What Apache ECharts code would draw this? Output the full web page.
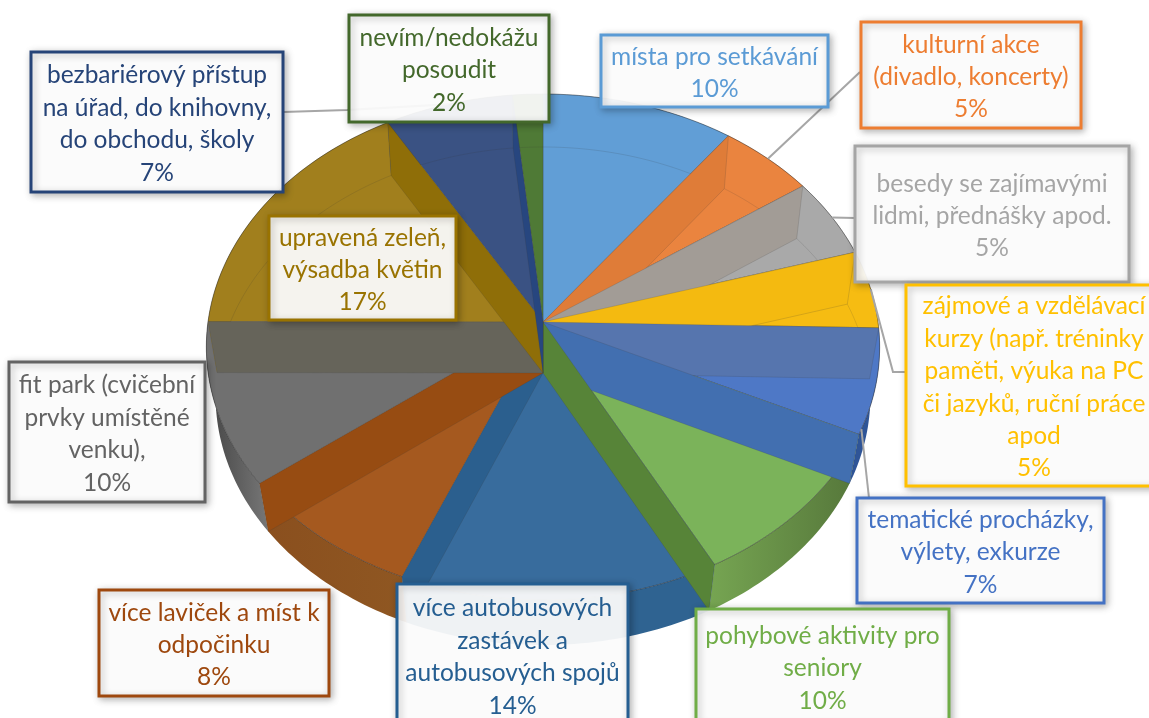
<!DOCTYPE html>
<html><head><meta charset="utf-8">
<script src="https://cdn.jsdelivr.net/npm/echarts@6/dist/echarts.min.js"></script>
<style>html,body{margin:0;padding:0;background:#fff;overflow:hidden}#c{width:1149px;height:718px}</style>
</head><body><div id="c"></div>
<script>
// ---- data ----
const categories = [
  'místa pro setkávání',
  'kulturní akce\n(divadlo, koncerty)',
  'besedy se zajímavými\nlidmi, přednášky apod.',
  'zájmové a vzdělávací\nkurzy (např. tréninky\npaměti, výuka na PC\nči jazyků, ruční práce\napod',
  'tematické procházky,\nvýlety, exkurze',
  'pohybové aktivity pro\nseniory',
  'více autobusových\nzastávek a\nautobusových spojů',
  'více laviček a míst k\nodpočinku',
  'fit park (cvičební\nprvky umístěné\nvenku),',
  'upravená zeleň,\nvýsadba květin',
  'bezbariérový přístup\nna úřad, do knihovny,\ndo obchodu, školy',
  'nevím/nedokážu\nposoudit'
];
const values = [10.2, 5.1, 5.1, 5.0, 6.7, 10.2, 14.0, 8.4, 10.4, 16.6, 6.8, 1.6];
const percentLabels = ['10%','5%','5%','5%','7%','10%','14%','8%','10%','17%','7%','2%'];

// ---- styles ----
const palette = ['#5b9bd5','#ed7d31','#a5a5a5','#ffc000','#4472c4','#70ad47','#255e91','#9e480e','#636363','#997300','#264478','#43682b'];
const faceColors = ['#619ed6','#ea843f','#a9a9a9','#f6bc12','#4e78c6','#7bb35a','#386c9d','#a5591f','#707070','#a17f1d','#3a5283','#4f7a36'];
const startWallColors = ['#619ed6','#df7c38','#a29c96','#f4ba10','#5675ae','#578438','#2b5f8e','#974c12','#66645a','#8f6e08','#27467f','#4f7a36'];
const endWallColors = ['#619ed6','#df7c38','#a29c96','#f4ba10','#426fb0','#578438','#2b5f8e','#974c12','#66645a','#8f6e08','#27467f','#4f7a36'];
const sideColors = [['#619ed6','#619ed6'],['#ea843f','#ea843f'],['#a9a9a9','#a9a9a9'],['#f6bc12','#f6bc12'],['#2f5597','#2f5597'],
  ['#76a552','#55763a'],['#2f6391','#2f6391'],['#8a4f1e','#8f5722'],['#444444','#777777'],['#a17f1d','#a17f1d'],['#3a5283','#3a5283'],['#4f7a36','#4f7a36']];
// label boxes: [left, top, right, bottom]
const boxes = [[601,35,828,107],[861,22,1081,128],[855,146,1129,282],[906,285,1162,486],[857,498,1104,603],[696,609,949,724],
  [397,584,628,726],[99,590,329,696],[9,362,205,502],[269,216,456,320],[31,52,283,192],[349,15,549,122]];
const lineHeight = 32.4;
// leader lines: slice index, position along the slice, then the way to its box
const leaders = [
  {i:1, at:0.5,  path:[[860,72]]},
  {i:2, at:0.5,  path:[[855,218]]},
  {i:3, at:0.5,  path:[[893,372],[906,372]]},
  {i:4, at:0.95, path:[[869,498]]},
  {i:10,at:0.5,  path:[[347,110],[283,112]]}
];
// perspective of the two pie faces
const topFace = {x:543,y:322,a:250.5,b:335,k:0.0988};
const botFace = {x:543,y:373,a:246.9,b:326,k:0.0924};
const project = (f,t)=>{const c=Math.cos(t),s=Math.sin(t),w=1+f.k*c;return [f.x+f.b*s/w,f.y-f.a*c/w];};

const total = values.reduce((p,v)=>p+v,0);
let run = 0;
const angles = values.map(v=>{const s=run/total*2*Math.PI;run+=v;return [s,run/total*2*Math.PI];});
const arc = (f,s,e)=>{const n=Math.max(2,Math.ceil((e-s)/0.02));const r=[];for(let j=0;j<=n;j++)r.push(project(f,s+(e-s)*j/n));return r;};
const limit = 100*Math.PI/180;
const idx = values.map((_,i)=>[i]);

function renderFaces(p){
  const i=p.dataIndex,[s,e]=angles[i];
  const tArc=arc(topFace,s,e),bArc=arc(botFace,s,e);
  const side=sideColors[i];
  return {type:'group',children:[
    {type:'polygon',shape:{points:tArc.concat(bArc.slice().reverse())},
      style:{fill:new echarts.graphic.LinearGradient(0,0,1,0,[{offset:0,color:side[0]},{offset:1,color:side[1]}])}},
    {type:'polygon',shape:{points:[[topFace.x,topFace.y]].concat(tArc)},
      style:{fill:faceColors[i],stroke:'rgba(60,60,60,0.35)',lineWidth:0.8}},
    {type:'polyline',shape:{points:bArc.filter(q=>q[1]<topFace.y+30)},
      style:{fill:null,stroke:'rgba(50,50,50,0.14)',lineWidth:1}}
  ]};
}
function renderWalls(p){
  const i=p.dataIndex,[s,e]=angles[i],children=[];
  const wall=(t,color)=>{const a=project(topFace,t),b=project(botFace,t);
    return {type:'polygon',shape:{points:[[topFace.x,topFace.y],a,b,[botFace.x,botFace.y]]},
      style:{fill:color,stroke:'rgba(60,60,60,0.22)',lineWidth:0.8}};};
  if(s<limit&&s>0)children.push(wall(s,startWallColors[i]));
  if(e>limit&&e<2*Math.PI-0.001)children.push(wall(e,endWallColors[i]));
  return {type:'group',children};
}
function renderRim(p){
  const i=p.dataIndex,[s,e]=angles[i];
  return {type:'polyline',shape:{points:arc(topFace,s,e)},style:{fill:null,stroke:'rgba(40,40,40,0.35)',lineWidth:0.9}};
}
function renderLeader(p){
  const l=leaders[p.dataIndex],[s,e]=angles[l.i];
  return {type:'polyline',shape:{points:[project(topFace,s+(e-s)*l.at)].concat(l.path)},
    style:{fill:null,stroke:'#a6a6a6',lineWidth:2}};
}
function renderLabel(p){
  const i=p.dataIndex,[l,t,r,b]=boxes[i];
  return {type:'group',children:[
    {type:'rect',shape:{x:l,y:t,width:r-l,height:b-t},
      style:{fill:'rgba(255,255,255,0.93)',stroke:palette[i],lineWidth:3,shadowBlur:7,shadowOffsetX:2,shadowOffsetY:2,shadowColor:'rgba(0,0,0,0.28)'}},
    {type:'text',style:{text:categories[i]+'\n'+percentLabels[i],x:(l+r)/2,y:(t+b)/2+2,align:'center',verticalAlign:'middle',
      fill:palette[i],font:'24.5px Lato, Carlito, sans-serif',lineHeight:lineHeight}}
  ]};
}
const layer=(z,fn,data)=>({type:'custom',coordinateSystem:'none',z,silent:true,animation:false,clip:false,data:data||idx,renderItem:fn});
const chart=echarts.init(document.getElementById('c'),null,{renderer:'canvas'});
chart.setOption({animation:false,backgroundColor:'#fff',series:[
  layer(2,renderFaces),
  layer(3,renderRim),
  layer(4,renderWalls),
  layer(5,renderLeader,leaders.map((_,i)=>[i])),
  layer(6,renderLabel)
]});
</script></body></html>
